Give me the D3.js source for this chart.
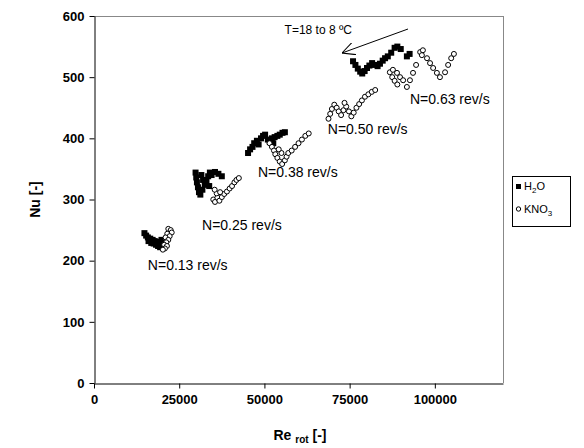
<!DOCTYPE html>
<html>
<head>
<meta charset="utf-8">
<script src="https://cdn.jsdelivr.net/npm/d3@7"></script>
<style>
  body { margin: 0; background: #fff; }
  svg { font-family: "Liberation Sans", Arial, sans-serif; }
  .tick text { font-weight: bold; font-size: 13px; fill: #000; }
  .domain { stroke: #000; }
  .tick line { stroke: #000; }
</style>
</head>
<body>
<svg id="chart" width="584" height="448"></svg>
<script>
// [Re_rot, Nu] pairs
var h2o = [
  // N = 0.13
  [14800, 245], [15300, 241], [15800, 238], [16500, 236], [17200, 234], [16800, 229], [17500, 228], [18200, 226],
  [18800, 224], [19400, 222], [17800, 232], [18600, 231], [19300, 229], [20000, 226], [16000, 232], [19800, 234],
  // N = 0.25
  [29800, 344], [30000, 336], [30200, 328], [30500, 320], [30800, 312], [31200, 308], [31500, 340], [32000, 332],
  [32500, 324], [33000, 330], [33500, 338], [34000, 344], [34500, 340], [35500, 345], [36500, 342], [37500, 338],
  [31800, 316], [33800, 322],
  // N = 0.38
  [45200, 376], [45800, 382], [46500, 386], [47000, 392], [47800, 396], [48300, 390], [49000, 400], [49600, 404],
  [50200, 406], [51000, 398], [51600, 394], [52200, 400], [53000, 402], [53800, 404], [54500, 406], [55300, 409],
  [56000, 410], [52600, 392],
  // N = 0.63
  [76000, 526], [76700, 520], [77400, 514], [78100, 509], [78700, 506], [79400, 510], [80100, 515], [80800, 519],
  [81600, 523], [82400, 520], [83200, 518], [83900, 522], [84700, 527], [85400, 531], [86200, 534], [87200, 540],
  [88200, 548], [89000, 550], [90000, 546], [91800, 534], [92600, 538]
]
var kno3 = [
  // N = 0.13
  [21800, 252], [22500, 250], [22800, 246], [21500, 244], [22200, 240], [21000, 238], [21800, 234], [21200, 230],
  [20600, 226], [21400, 224], [20800, 220], [20200, 218],
  // N = 0.25
  [35000, 300], [35500, 296], [36200, 303], [36000, 310], [35400, 316], [36800, 298], [37500, 304], [38200, 309],
  [39000, 313], [39800, 318], [40500, 322], [41200, 328], [41800, 332], [42500, 335], [37000, 312],
  // N = 0.38
  [51500, 392], [52200, 386], [52800, 380], [53200, 374], [53800, 368], [54500, 362], [55200, 358], [56000, 364],
  [56500, 370], [55000, 376], [54200, 382], [57000, 376], [58000, 380], [59000, 386], [60000, 392], [61000, 398],
  [62000, 404], [63000, 408],
  // N = 0.50
  [68800, 432], [69300, 440], [69800, 448], [70500, 455], [71200, 450], [71800, 444], [72500, 438], [73200, 446],
  [74000, 452], [74800, 444], [75500, 436], [76200, 442], [77000, 450], [77800, 456], [78600, 462], [79500, 468],
  [80500, 472], [81500, 476], [82500, 479], [73500, 458],
  // N = 0.63
  [86800, 508], [87500, 500], [88200, 494], [89000, 488], [87700, 512], [88900, 507], [89800, 500], [90700, 495],
  [91800, 484], [92700, 495], [93600, 507], [94500, 520], [95700, 541], [96500, 544], [96200, 536], [97700, 531],
  [98600, 523], [99500, 515], [100600, 507], [101500, 500], [103000, 508], [103900, 520], [104800, 531], [105600, 538]
]
var xTicks = [0, 25000, 50000, 75000, 100000]
var yTicks = [0, 100, 200, 300, 400, 500, 600]
var speedLabels = [
  { text: 'N=0.13 rev/s', re: 15800, nu: 185 },
  { text: 'N=0.25 rev/s', re: 31700, nu: 250 },
  { text: 'N=0.38 rev/s', re: 48100, nu: 337 },
  { text: 'N=0.50 rev/s', re: 68600, nu: 407 },
  { text: 'N=0.63 rev/s', re: 92700, nu: 456 }
]

var svg = d3.select('#chart')
var plotLeft = 94, plotTop = 16, plotRight = 503, plotBottom = 383

var x = d3.scaleLinear().domain([0, 120000]).range([plotLeft, plotRight])
var y = d3.scaleLinear().domain([0, 600]).range([plotBottom, plotTop])

// frame (top/right grey)
svg.append('line').attr('x1', plotLeft).attr('x2', plotRight).attr('y1', plotTop + 0.5).attr('y2', plotTop + 0.5).attr('stroke', '#888')
svg.append('line').attr('x1', plotRight + 0.5).attr('x2', plotRight + 0.5).attr('y1', plotTop).attr('y2', plotBottom).attr('stroke', '#888')

var xAxis = svg.append('g')
    .attr('transform', 'translate(0,' + (plotBottom + 0.5) + ')')
    .call(d3.axisBottom(x).tickValues(xTicks).tickSize(5).tickSizeOuter(0).tickPadding(6).tickFormat(d3.format('d')))
xAxis.attr('font-family', null).attr('font-size', null)

var yAxis = svg.append('g')
    .attr('transform', 'translate(' + (plotLeft + 0.5) + ',0)')
    .call(d3.axisLeft(y).tickValues(yTicks).tickSize(5).tickSizeOuter(0).tickPadding(5))
yAxis.attr('font-family', null).attr('font-size', null)

// axis titles
svg.append('text')
    .attr('transform', 'translate(40,' + ((plotTop + plotBottom) / 2) + ') rotate(-90)')
    .attr('text-anchor', 'middle')
    .attr('font-weight', 'bold').attr('font-size', 14)
    .text('Nu [-]')

var xt = svg.append('text')
    .attr('x', 300).attr('y', 440)
    .attr('text-anchor', 'middle')
    .attr('font-weight', 'bold').attr('font-size', 14)
xt.append('tspan').text('Re ')
xt.append('tspan').attr('font-size', 10).attr('dy', 3).text('rot')
xt.append('tspan').attr('dy', -3).text(' [-]')

// points
svg.append('g').selectAll('rect')
    .data(h2o)
    .enter()
    .append('rect')
    .attr('x', function (d) { return x(d[0]) - 3 })
    .attr('y', function (d) { return y(d[1]) - 3 })
    .attr('width', 6).attr('height', 6)
    .attr('fill', '#000')

svg.append('g').selectAll('circle')
    .data(kno3)
    .enter()
    .append('circle')
    .attr('cx', function (d) { return x(d[0]) })
    .attr('cy', function (d) { return y(d[1]) })
    .attr('r', 2.5)
    .attr('fill', '#fff').attr('stroke', '#000').attr('stroke-width', 1)

// speed labels
svg.append('g').selectAll('text')
    .data(speedLabels)
    .enter()
    .append('text')
    .attr('x', function (d) { return x(d.re) })
    .attr('y', function (d) { return y(d.nu) })
    .attr('font-size', 14)
    .text(function (d) { return d.text })

// temperature arrow
svg.append('defs').append('marker')
    .attr('id', 'arr').attr('viewBox', '0 0 10 10').attr('refX', 10).attr('refY', 5)
    .attr('markerWidth', 13).attr('markerHeight', 13).attr('orient', 'auto')
    .attr('markerUnits', 'userSpaceOnUse')
    .append('path').attr('d', 'M0,0 L10,5 L0,10').attr('fill', 'none').attr('stroke', '#000').attr('stroke-width', 0.8)
svg.append('line')
    .attr('x1', 408).attr('y1', 29)
    .attr('x2', 342).attr('y2', 53)
    .attr('stroke', '#000').attr('stroke-width', 1)
    .attr('marker-end', 'url(#arr)')
svg.append('text')
    .attr('x', 352).attr('y', 34)
    .attr('text-anchor', 'end')
    .attr('font-size', 12)
    .text('T=18 to 8 \u00baC')

// legend
var lg = svg.append('g').attr('transform', 'translate(512,176)')
lg.append('rect').attr('x', 0.5).attr('y', 0.5).attr('width', 58).attr('height', 50)
    .attr('fill', '#fff').attr('stroke', '#000')
lg.append('rect').attr('x', 4).attr('y', 8).attr('width', 5).attr('height', 5).attr('fill', '#000')
var t1 = lg.append('text').attr('x', 12).attr('y', 14).attr('font-size', 11)
t1.append('tspan').text('H')
t1.append('tspan').attr('font-size', 8).attr('dy', 3).text('2')
t1.append('tspan').attr('dy', -3).text('O')
lg.append('circle').attr('cx', 6.5).attr('cy', 33).attr('r', 2.2).attr('fill', '#fff').attr('stroke', '#000')
var t2 = lg.append('text').attr('x', 12).attr('y', 37).attr('font-size', 11)
t2.append('tspan').text('KNO')
t2.append('tspan').attr('font-size', 8).attr('dy', 3).text('3')
</script>
</body>
</html>
